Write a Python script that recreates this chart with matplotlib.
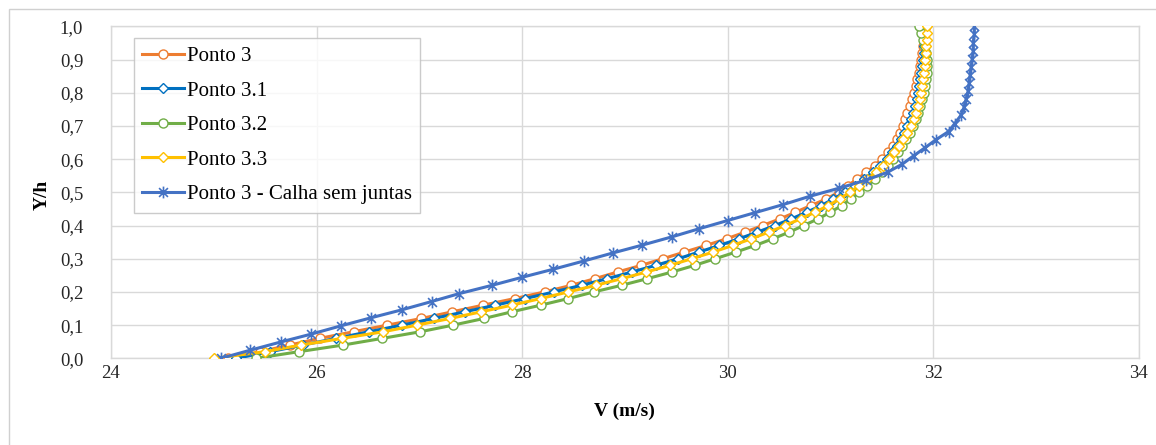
import matplotlib
matplotlib.use("Agg")
import matplotlib.pyplot as plt
from matplotlib.path import Path
from matplotlib.ticker import FuncFormatter, MultipleLocator
from matplotlib.patches import Rectangle

# ---- data ----
y_grid = [0.00, 0.02, 0.04, 0.06, 0.08, 0.10, 0.12, 0.14, 0.16, 0.18,
          0.20, 0.22, 0.24, 0.26, 0.28, 0.30, 0.32, 0.34, 0.36, 0.38,
          0.40, 0.42, 0.44, 0.46, 0.48, 0.50, 0.52, 0.54, 0.56, 0.58,
          0.60, 0.62, 0.64, 0.66, 0.68, 0.70, 0.72, 0.74, 0.76, 0.78,
          0.80, 0.82, 0.84, 0.86, 0.88, 0.90, 0.92, 0.94, 0.96, 0.98, 1.00]

v_ponto3 = [25.14, 25.45, 25.74, 26.03, 26.36, 26.69, 27.02, 27.32, 27.62, 27.93,
            28.22, 28.48, 28.71, 28.93, 29.16, 29.37, 29.58, 29.79, 29.99, 30.17,
            30.34, 30.51, 30.66, 30.81, 30.96, 31.08, 31.17, 31.26, 31.35, 31.43,
            31.50, 31.56, 31.61, 31.65, 31.68, 31.71, 31.73, 31.75, 31.77, 31.79,
            31.81, 31.83, 31.84, 31.86, 31.87, 31.88, 31.89, 31.90, 31.91, 31.92, 31.93]

v_ponto31 = [25.22, 25.55, 25.87, 26.19, 26.51, 26.83, 27.14, 27.44, 27.74, 28.03,
             28.31, 28.58, 28.83, 29.07, 29.30, 29.52, 29.72, 29.92, 30.11, 30.29,
             30.46, 30.62, 30.77, 30.91, 31.03, 31.14, 31.24, 31.33, 31.41, 31.48,
             31.55, 31.60, 31.65, 31.69, 31.72, 31.75, 31.78, 31.80, 31.82, 31.84,
             31.85, 31.86, 31.87, 31.88, 31.89, 31.90, 31.91, 31.91, 31.92, 31.92, 31.93]

v_ponto32 = [25.41, 25.83, 26.26, 26.64, 27.01, 27.33, 27.63, 27.90, 28.18, 28.45,
             28.70, 28.97, 29.22, 29.46, 29.68, 29.88, 30.08, 30.27, 30.44, 30.60,
             30.74, 30.88, 31.00, 31.11, 31.20, 31.28, 31.36, 31.43, 31.50, 31.56,
             31.61, 31.66, 31.70, 31.74, 31.77, 31.80, 31.83, 31.85, 31.87, 31.89,
             31.91, 31.92, 31.93, 31.94, 31.94, 31.94, 31.93, 31.92, 31.90, 31.88, 31.86]

v_ponto33 = [25.00, 25.50, 25.85, 26.25, 26.65, 26.98, 27.30, 27.60, 27.90, 28.18,
             28.45, 28.72, 28.97, 29.21, 29.44, 29.65, 29.86, 30.05, 30.23, 30.40,
             30.56, 30.71, 30.85, 30.98, 31.09, 31.19, 31.28, 31.36, 31.44, 31.51,
             31.57, 31.62, 31.67, 31.71, 31.75, 31.78, 31.81, 31.83, 31.85, 31.87,
             31.88, 31.89, 31.90, 31.91, 31.92, 31.92, 31.93, 31.93, 31.94, 31.94, 31.94]

y_calha = [0.000, 0.024, 0.049, 0.073, 0.098, 0.122, 0.146, 0.171, 0.195, 0.220,
           0.244, 0.268, 0.293, 0.317, 0.341, 0.366, 0.390, 0.415, 0.439, 0.463,
           0.488, 0.512, 0.537, 0.561, 0.585, 0.610, 0.634, 0.659, 0.683, 0.707,
           0.732, 0.756, 0.780, 0.805, 0.829, 0.854, 0.878, 0.902, 0.927, 0.951,
           0.976, 1.000]
v_calha = [25.07, 25.35, 25.65, 25.95, 26.24, 26.53, 26.83, 27.12, 27.39, 27.71,
           28.00, 28.30, 28.60, 28.88, 29.17, 29.46, 29.72, 30.00, 30.27, 30.54,
           30.80, 31.08, 31.35, 31.56, 31.70, 31.81, 31.92, 32.03, 32.15, 32.21,
           32.27, 32.30, 32.32, 32.34, 32.35, 32.36, 32.37, 32.38, 32.39, 32.39,
           32.40, 32.40]

labels = ["Ponto 3", "Ponto 3.1", "Ponto 3.2", "Ponto 3.3", "Ponto 3 - Calha sem juntas"]
colors = ["#ED7D31", "#0070C0", "#70AD47", "#FFC000", "#4472C4"]

x_ticks = [24, 26, 28, 30, 32, 34]

# ---- figure ----
plt.rcParams['font.family'] = ['Liberation Serif', 'DejaVu Serif']
fig = plt.figure(figsize=(11.56, 4.45), dpi=100)
ax = fig.add_axes([111/1156, (445-358.3)/445, (1138.7-111)/1156, (358.3-26.3)/445])

# chart border (left/top visible)
fig.patches.append(Rectangle((9/1156, -0.1), 1.2, (445-9)/445 + 0.1, transform=fig.transFigure,
                             fill=False, edgecolor="#D0D0D0", lw=1.0, zorder=0))

star_path = Path([(0, -1), (0, 1), (-0.75, -0.75), (0.75, 0.75), (-0.75, 0.75), (0.75, -0.75)],
                 [Path.MOVETO, Path.LINETO, Path.MOVETO, Path.LINETO, Path.MOVETO, Path.LINETO])

series = [
    (v_ponto3, y_grid, 'o', 6.5),
    (v_ponto31, y_grid, 'D', 4.8),
    (v_ponto32, y_grid, 'o', 6.5),
    (v_ponto33, y_grid, 'D', 4.8),
]
for (v, y, mk, ms), lab, col in zip(series, labels[:4], colors[:4]):
    ax.plot(v, y, color=col, lw=2.2, marker=mk, ms=ms, mfc='white', mec=col, mew=1.0,
            label=lab, zorder=3)
ax.plot(v_calha, y_calha, color=colors[4], lw=2.2, marker=star_path, ms=8.5, mec=colors[4],
        mew=1.2, label=labels[4], zorder=3)

ax.set_xlim(24, 34)
ax.set_ylim(0, 1.0)
ax.set_xticks(x_ticks)
ax.yaxis.set_major_locator(MultipleLocator(0.1))
ax.yaxis.set_major_formatter(FuncFormatter(lambda v, p: f"{v:.1f}".replace('.', ',')))
ax.xaxis.set_major_formatter(FuncFormatter(lambda v, p: f"{v:.0f}"))
ax.grid(True, color="#D9D9D9", lw=1.0)
ax.set_axisbelow(True)
for s in ax.spines.values():
    s.set_color("#D9D9D9")
    s.set_linewidth(1.0)
ax.tick_params(axis='both', length=0, labelsize=13.5)
ax.tick_params(axis='y', pad=20)
ax.tick_params(axis='x', pad=5)
for t in ax.get_xticklabels() + ax.get_yticklabels():
    t.set_color("#262626")

ax.set_xlabel("V (m/s)", fontsize=14, fontweight='bold')
ax.xaxis.set_label_coords(0.5, (358.3-411)/332)
ax.xaxis.label.set_va('center')
ax.set_ylabel("Y/h", fontsize=14, fontweight='bold')
ax.yaxis.set_label_coords((42-111)/1027.7, (358.3-195)/332)
ax.yaxis.label.set_va('center')

leg = ax.legend(loc='upper left', bbox_to_anchor=((134-111)/1027.7, (358.3-38)/332),
                fontsize=15, frameon=True, fancybox=False, borderpad=0.4,
                labelspacing=0.72, handlelength=2.0, handletextpad=0.15, borderaxespad=0)
leg.get_frame().set_edgecolor("#BFBFBF")
leg.get_frame().set_linewidth(1.0)

fig.savefig("out.png", dpi=100)
